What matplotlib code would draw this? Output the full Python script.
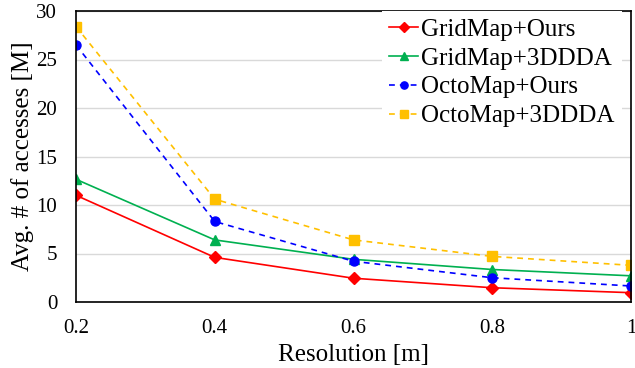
import matplotlib
matplotlib.use("Agg")
import matplotlib.pyplot as plt

resolution = [0.2, 0.4, 0.6, 0.8, 1.0]
x_tick_labels = ["0.2", "0.4", "0.6", "0.8", "1"]
gridmap_ours = [11.0, 4.6, 2.45, 1.47, 0.96]
gridmap_3ddda = [12.65, 6.4, 4.4, 3.35, 2.7]
octomap_ours = [26.5, 8.3, 4.2, 2.5, 1.65]
octomap_3ddda = [28.4, 10.6, 6.4, 4.7, 3.78]

plt.rcParams['font.family'] = ['Liberation Serif', 'DejaVu Serif']

fig = plt.figure(figsize=(6.35, 3.68), dpi=100)
ax = fig.add_axes([76/635, 1-302/368, (631-76)/635, (302-11)/368])

ax.plot(resolution, gridmap_ours, color='#FF0000', marker='D', markersize=6, lw=1.2, label='GridMap+Ours')
ax.plot(resolution, gridmap_3ddda, color='#00B050', marker='^', markersize=7.5, lw=1.2, label='GridMap+3DDDA')
ax.plot(resolution, octomap_ours, color='#0000FF', marker='o', markersize=6.5, lw=1.2, ls=(0, (3.5, 3)), label='OctoMap+Ours')
ax.plot(resolution, octomap_3ddda, color='#FFC000', marker='s', markersize=6.5, lw=1.2, ls=(0, (3.5, 3)), label='OctoMap+3DDDA')

ax.set_xlim(0.2, 1.0)
ax.set_ylim(0, 30)
ax.set_xticks(resolution)
ax.set_xticklabels(x_tick_labels)
ax.set_yticks([0, 5, 10, 15, 20, 25, 30])
ax.tick_params(axis='x', length=0, pad=12, labelsize=15)
ax.tick_params(axis='y', length=0, pad=13.5, labelsize=15)
ax.grid(axis='y', color='#D9D9D9', lw=1)
ax.set_axisbelow(True)
for s in ax.spines.values():
    s.set_color('black')
    s.set_linewidth(1.2)

ax.set_xlabel('Resolution [m]', fontsize=18)
ax.xaxis.set_label_coords(0.5, (302-355)/291)
ax.xaxis.label.set_verticalalignment('center')
ax.set_ylabel('Avg. # of accesses [M]', fontsize=18)
ax.yaxis.set_label_coords((23-76)/555, 0.5)
ax.yaxis.label.set_verticalalignment('center')

leg = ax.legend(loc='upper right', bbox_to_anchor=(1 - 9/555, 1), borderaxespad=0,
                fancybox=False, edgecolor='white', framealpha=1, fontsize=18,
                handlelength=1.16, handletextpad=0.12, labelspacing=0.25,
                borderpad=0.3, markerscale=0.8)
leg.get_frame().set_linewidth(0)

fig.savefig('out.png', dpi=100)
